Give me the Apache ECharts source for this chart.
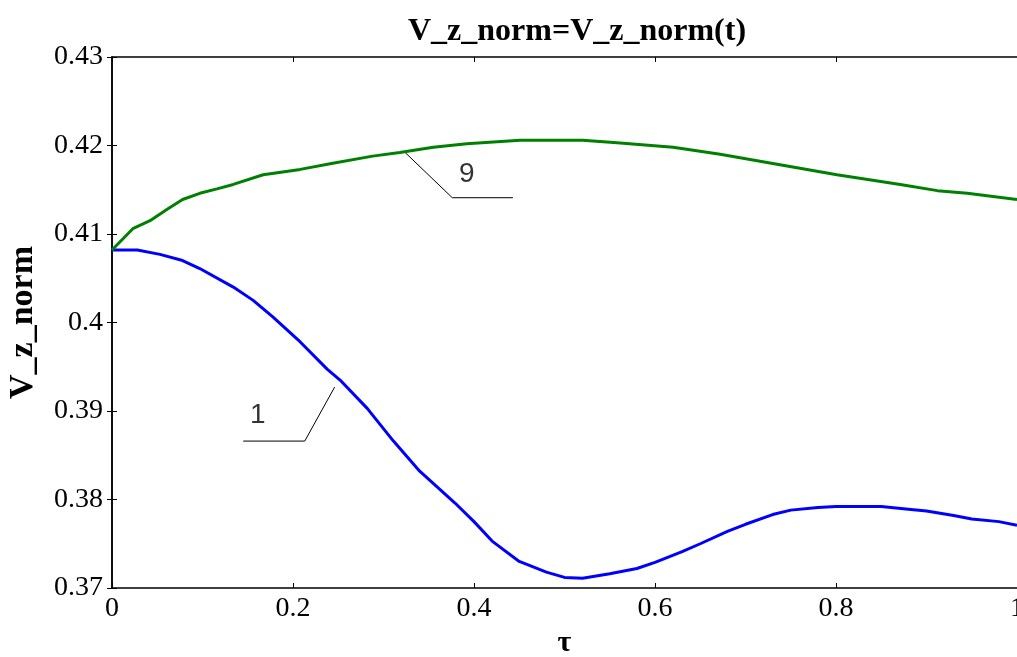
<!DOCTYPE html>
<html>
<head>
<meta charset="utf-8">
<script src="https://cdn.jsdelivr.net/npm/echarts@6/dist/echarts.min.js"></script>
<style>html,body{margin:0;padding:0;background:#fff;}#c{width:1017px;height:657px;}</style>
</head>
<body>
<div id="c"></div>
<script>
// Curve 1 (blue): [tau, V_z_norm]
const curve1 = [
[0,0.4082],[0.028,0.4082],[0.053,0.4077],[0.078,0.4070],[0.097,0.4061],[0.134,0.4040],
[0.156,0.4025],[0.178,0.4006],[0.208,0.3978],[0.238,0.3947],[0.252,0.3935],[0.282,0.3903],
[0.311,0.3866],[0.340,0.3832],[0.379,0.3796],[0.40,0.3775],[0.42,0.3753],[0.45,0.3730],
[0.48,0.3718],[0.50,0.3712],[0.52,0.3711],[0.55,0.3716],[0.58,0.3722],[0.60,0.3729],
[0.63,0.3741],[0.65,0.3750],[0.68,0.3764],[0.70,0.3772],[0.73,0.3783],[0.75,0.3788],
[0.78,0.3791],[0.80,0.3792],[0.85,0.3792],[0.88,0.3789],[0.90,0.3787],[0.93,0.3782],
[0.95,0.3778],[0.98,0.3775],[1.0,0.3771]
];
// Curve 9 (green)
const curve9 = [
[0,0.4082],[0.023,0.4106],[0.042,0.4115],[0.061,0.4128],[0.078,0.4139],[0.097,0.4146],
[0.116,0.4151],[0.134,0.4156],[0.167,0.4167],[0.208,0.4173],[0.244,0.4180],[0.288,0.4188],
[0.318,0.4192],[0.355,0.4198],[0.392,0.4202],[0.451,0.4206],[0.520,0.4206],[0.558,0.4203],
[0.62,0.4198],[0.672,0.4190],[0.801,0.4167],[0.871,0.4156],[0.912,0.4149],[0.945,0.4146],[1.0,0.4139]
];
// Annotation leaders (data units) and labels
const leader9 = [[0.324,0.4192],[0.376,0.4141],[0.443,0.4141]];
const label9 = {text:'9', at:[0.392,0.4168]};
const leader1 = [[0.246,0.3927],[0.213,0.3866],[0.145,0.3866]];
const label1 = {text:'1', at:[0.161,0.3895]};
const xTicks = {min:0, max:1, interval:0.2};
const yTicks = {min:0.37, max:0.43, interval:0.01};
const titleText = 'V_z_norm=V_z_norm(t)';
const yName = 'V_z_norm';
const xName = 'τ';

const serif = 'Liberation Serif';
const chart = echarts.init(document.getElementById('c'));
const axisLabelStyle = {fontFamily: serif, fontSize: 28, color: '#000'};
chart.setOption({
  animation: false,
  title: {text: titleText, left: 572, top: 11, textAlign: 'center',
    textStyle: {fontFamily: serif, fontSize: 32, fontWeight: 'bold', color: '#000'}},
  grid: {left: 112, right: 0, top: 57, bottom: 69, containLabel: false, outerBoundsMode: 'none'},
  xAxis: [{
    type: 'value', min: xTicks.min, max: xTicks.max, interval: xTicks.interval, position: 'bottom',
    name: xName, nameLocation: 'middle', nameGap: 40,
    nameTextStyle: {fontFamily: serif, fontSize: 30, fontWeight: 'bold', color: '#000'},
    axisLine: {lineStyle: {color: '#000', width: 1.5}},
    axisTick: {inside: true, length: 5, lineStyle: {color: '#000'}},
    axisLabel: Object.assign({margin: 7, formatter: v => String(+v.toFixed(2))}, axisLabelStyle),
    splitLine: {show: false}
  },{
    type: 'value', min: xTicks.min, max: xTicks.max, interval: xTicks.interval, position: 'top',
    axisLine: {show: true, lineStyle: {color: '#000', width: 1.5}},
    axisTick: {inside: true, length: 5, lineStyle: {color: '#000'}},
    axisLabel: {show: false}, splitLine: {show: false}
  }],
  yAxis: [{
    type: 'value', min: yTicks.min, max: yTicks.max, interval: yTicks.interval, position: 'left',
    name: yName, nameLocation: 'middle', nameGap: 72, nameRotate: 90,
    nameTextStyle: {fontFamily: serif, fontSize: 34, fontWeight: 'bold', color: '#000'},
    axisLine: {show: true, lineStyle: {color: '#000', width: 1.5}},
    axisTick: {inside: true, length: 5, lineStyle: {color: '#000'}},
    axisLabel: Object.assign({margin: 9, formatter: v => String(+v.toFixed(2))}, axisLabelStyle),
    splitLine: {show: false}
  },{
    type: 'value', min: yTicks.min, max: yTicks.max, interval: yTicks.interval, position: 'right',
    axisLine: {show: true, lineStyle: {color: '#000', width: 1.5}},
    axisTick: {inside: true, length: 5, lineStyle: {color: '#000'}},
    axisLabel: {show: false}, splitLine: {show: false}
  }],
  series: [
    {type: 'line', data: curve1, showSymbol: false, lineStyle: {color: '#0000ff', width: 3}, z: 3},
    {type: 'line', data: curve9, showSymbol: false, lineStyle: {color: '#008000', width: 3}, z: 3},
    {type: 'line', data: leader9, showSymbol: false, silent: true, lineStyle: {color: '#000', width: 1}, z: 2},
    {type: 'line', data: leader1, showSymbol: false, silent: true, lineStyle: {color: '#000', width: 1}, z: 2},
    {type: 'scatter', symbolSize: 0, silent: true,
     data: [{value: label9.at, name: label9.text}, {value: label1.at, name: label1.text}],
     label: {show: true, position: 'inside', formatter: p => p.name,
       fontFamily: 'Liberation Sans', fontSize: 28, color: '#000'}}
  ]
});
</script>
</body>
</html>
